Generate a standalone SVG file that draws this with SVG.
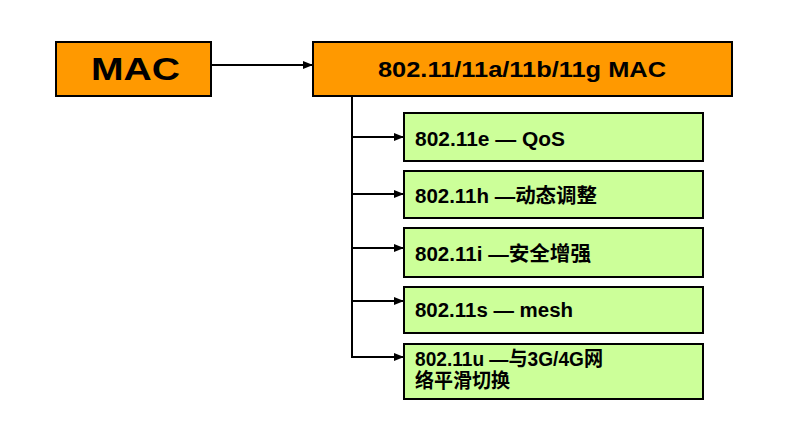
<svg xmlns="http://www.w3.org/2000/svg" width="791" height="430" viewBox="0 0 791 430">
<defs>
<marker id="arr" markerWidth="10" markerHeight="10" refX="9" refY="5" orient="auto" markerUnits="userSpaceOnUse">
<path d="M0,1 L10,5 L0,9 Z" fill="#000"/>
</marker>
</defs>
<style>
.o{fill:#FF9900;stroke:#000;stroke-width:2}
.g{fill:#CCFF99;stroke:#000;stroke-width:2}
.t{font-family:"Liberation Sans","Noto Sans CJK SC",sans-serif;font-weight:bold;fill:#000}
.s{font-size:20px}
.c{stroke:#000;stroke-width:2;fill:none}
</style>
<rect width="791" height="430" fill="#fff"/>
<g id="mac">
<rect class="o" x="56" y="42" width="155" height="54"/>
<text class="t" x="91" y="80" font-size="32" textLength="89" lengthAdjust="spacingAndGlyphs">MAC</text>
</g>
<g id="mac80211">
<rect class="o" x="313" y="42" width="419" height="54"/>
<text class="t" x="378" y="77" font-size="22" textLength="288" lengthAdjust="spacingAndGlyphs">802.11/11a/11b/11g MAC</text>
</g>
<g id="e">
<rect class="g" x="404" y="113" width="299" height="48"/>
<text class="t s" x="415" y="146" textLength="150" lengthAdjust="spacingAndGlyphs">802.11e — QoS</text>
</g>
<g id="h">
<rect class="g" x="404" y="171" width="299" height="47"/>
<text class="t s" x="415" y="203" textLength="182" lengthAdjust="spacingAndGlyphs">802.11h —动态调整</text>
</g>
<g id="i">
<rect class="g" x="404" y="228" width="299" height="49"/>
<text class="t s" x="415" y="261" textLength="176" lengthAdjust="spacingAndGlyphs">802.11i —安全增强</text>
</g>
<g id="s">
<rect class="g" x="404" y="287" width="299" height="46"/>
<text class="t s" x="415" y="317" textLength="158" lengthAdjust="spacingAndGlyphs">802.11s — mesh</text>
</g>
<g id="u">
<rect class="g" x="404" y="344" width="299" height="55"/>
<text class="t s" x="415" y="366" textLength="188" lengthAdjust="spacingAndGlyphs">802.11u —与3G/4G网</text>
<text class="t s" x="415" y="388" textLength="95" lengthAdjust="spacingAndGlyphs">络平滑切换</text>
</g>
<g id="connectors">
<line class="c" x1="211" y1="65" x2="312" y2="65" marker-end="url(#arr)"/>
<polyline class="c" points="352,96 352,357 403,357" marker-end="url(#arr)"/>
<line class="c" x1="352" y1="137" x2="403" y2="137" marker-end="url(#arr)"/>
<line class="c" x1="352" y1="194" x2="403" y2="194" marker-end="url(#arr)"/>
<line class="c" x1="352" y1="248" x2="403" y2="248" marker-end="url(#arr)"/>
<line class="c" x1="352" y1="301" x2="403" y2="301" marker-end="url(#arr)"/>
</g>
</svg>
